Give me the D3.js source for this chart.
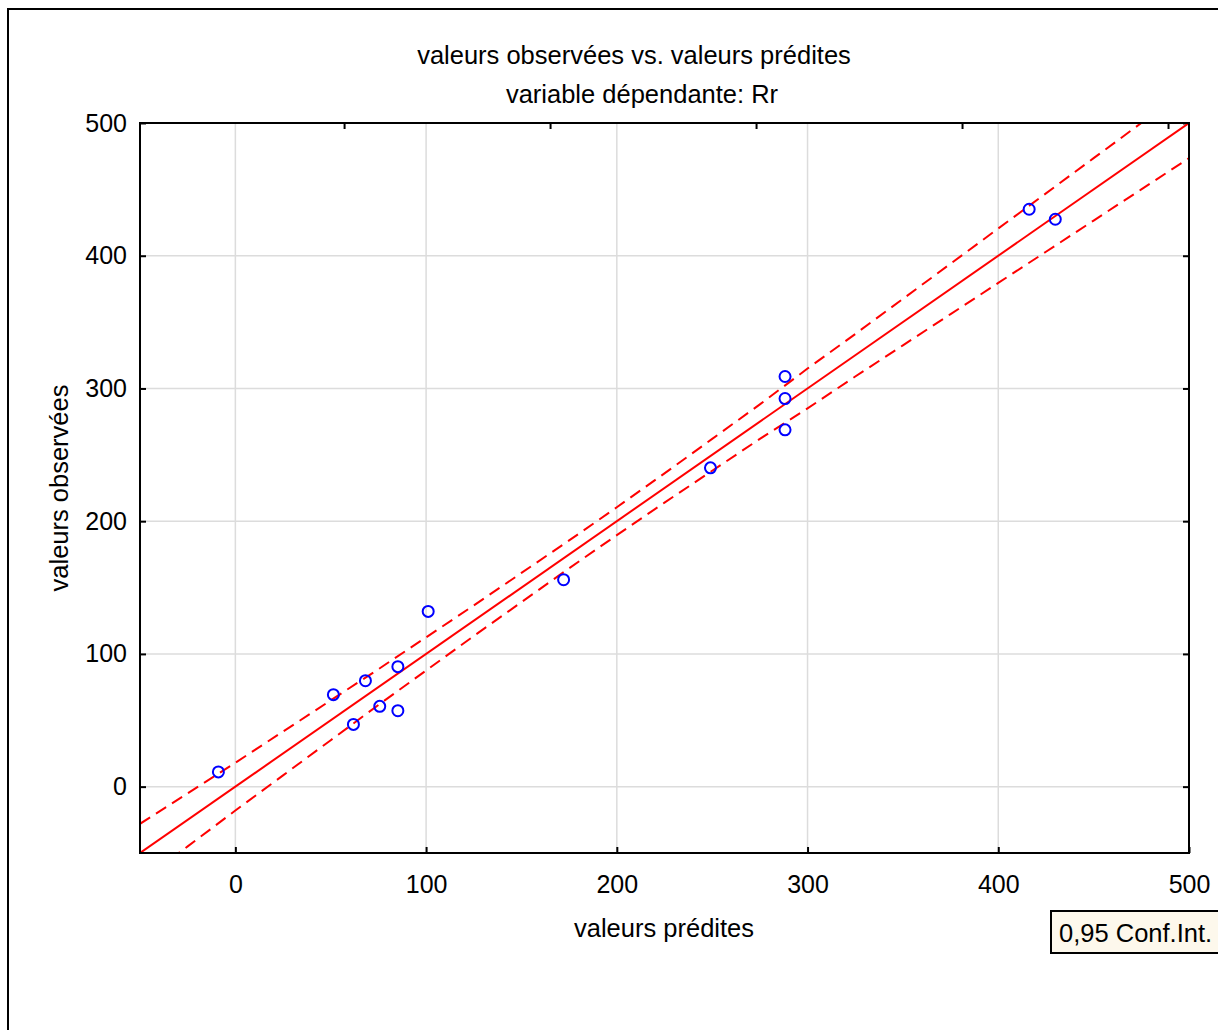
<!DOCTYPE html>
<html>
<head>
<meta charset="utf-8">
<style>
  body { margin: 0; background: white; }
  text { font-family: "Liberation Sans", Arial, sans-serif; fill: black; }
</style>
</head>
<body>
<svg width="1218" height="1030"></svg>
<script src="https://cdn.jsdelivr.net/npm/d3@7"></script>
<script>

// observed vs predicted
var predicted = [-8.9, 51.4, 61.9, 68.2, 75.7, 85.2, 85.2, 101.1, 172.1, 249.1, 288.2, 288.2, 288.2, 416.2, 429.9];
var observed  = [11.1, 69.3, 46.9, 79.8, 60.5, 90.4, 57.2, 132.0, 155.9, 240.2, 309.0, 292.4, 268.8, 435.0, 427.5];

// fitted line and 0.95 confidence band
var fitX   = [-50, 500];
var fitY   = [-50, 500];
var bandX  = [-50, -25, 0, 25, 50, 75, 100, 125, 150, 175, 200, 225, 250, 275, 300, 325, 350, 375, 400, 425, 450, 475, 500];
var bandHi = [-28, -5, 18, 41.5, 65, 88.5, 112.5, 136.5, 161, 185.5, 210.5, 236, 262, 288, 315, 341, 367.5, 394, 420.5, 447, 473.5, 500, 526.5];
var bandLo = [-72, -45, -18, 8.5, 35, 61.5, 87.5, 113.5, 139, 164.5, 189.5, 214, 238, 262, 285, 309, 332.5, 356, 379.5, 403, 426.5, 450, 473.5];

var xTicks = [0, 100, 200, 300, 400, 500];
var yTicks = [0, 100, 200, 300, 400, 500];
var topTicks = [57, 165, 273, 381, 489];

var svg = d3.select("svg");

var pLeft = 140, pRight = 1189, pTop = 123, pBottom = 853;

var x = d3.scaleLinear().domain([-50, 500]).range([pLeft, pRight]);
var y = d3.scaleLinear().domain([-50, 500]).range([pBottom, pTop]);

// outer frame
svg.append("rect")
    .attr("x", 8).attr("y", 9)
    .attr("width", 1240).attr("height", 1040)
    .attr("fill", "none").attr("stroke", "black").attr("stroke-width", 2);

// grid
svg.append("g").selectAll("line")
    .data(xTicks.slice(0, -1))
    .enter().append("line")
    .attr("x1", d => x(d)).attr("x2", d => x(d))
    .attr("y1", pTop).attr("y2", pBottom)
    .attr("stroke", "#dcdcdc").attr("stroke-width", 1.5);

svg.append("g").selectAll("line")
    .data(yTicks.slice(0, -1))
    .enter().append("line")
    .attr("y1", d => y(d)).attr("y2", d => y(d))
    .attr("x1", pLeft).attr("x2", pRight)
    .attr("stroke", "#dcdcdc").attr("stroke-width", 1.5);

// axes (ticks drawn inward)
var fmt = d3.format("d");
var gx = svg.append("g").attr("transform", "translate(0," + pBottom + ")")
    .call(d3.axisBottom(x).tickValues(xTicks).tickSize(-6).tickPadding(22).tickFormat(fmt));
var gy = svg.append("g").attr("transform", "translate(" + pLeft + ",0)")
    .call(d3.axisLeft(y).tickValues(yTicks).tickSize(-6).tickPadding(13).tickFormat(fmt));
var gt = svg.append("g").attr("transform", "translate(0," + pTop + ")")
    .call(d3.axisTop(x).tickValues(topTicks).tickSize(-6).tickFormat(""));
var gr = svg.append("g").attr("transform", "translate(" + pRight + ",0)")
    .call(d3.axisRight(y).tickValues(yTicks).tickSize(-6).tickFormat(""));

[gx, gy, gt, gr].forEach(function(g) {
  g.select(".domain").remove();
  g.selectAll("line").attr("stroke", "black").attr("stroke-width", 2);
  g.selectAll("text").style("font-size", "25px").attr("fill", "black");
});

// clip for lines
svg.append("clipPath").attr("id", "plot")
  .append("rect").attr("x", pLeft).attr("y", pTop)
  .attr("width", pRight - pLeft).attr("height", pBottom - pTop);

var plot = svg.append("g").attr("clip-path", "url(#plot)");

var line = d3.line()
    .x(d => x(d[0]))
    .y(d => y(d[1]));

plot.append("path")
    .attr("d", line(d3.zip(fitX, fitY)))
    .attr("fill", "none").attr("stroke", "#ff0000").attr("stroke-width", 2);

[bandHi, bandLo].forEach(function(b) {
  plot.append("path")
      .attr("d", line(d3.zip(bandX, b)))
      .attr("fill", "none").attr("stroke", "#ff0000").attr("stroke-width", 2)
      .attr("stroke-dasharray", "12,7");
});

// points
svg.append("g").selectAll("circle")
    .data(d3.zip(predicted, observed))
    .enter().append("circle")
    .attr("cx", d => x(d[0]))
    .attr("cy", d => y(d[1]))
    .attr("r", 5.5)
    .attr("fill", "none").attr("stroke", "#0000ff").attr("stroke-width", 2);

// plot frame
svg.append("rect")
    .attr("x", pLeft).attr("y", pTop)
    .attr("width", pRight - pLeft).attr("height", pBottom - pTop)
    .attr("fill", "none").attr("stroke", "black").attr("stroke-width", 2);

// titles
svg.append("text").attr("x", 634).attr("y", 64)
    .attr("text-anchor", "middle").style("font-size", "25.5px")
    .text("valeurs observées vs. valeurs prédites");
svg.append("text").attr("x", 642).attr("y", 103)
    .attr("text-anchor", "middle").style("font-size", "25.5px")
    .text("variable dépendante: Rr");
svg.append("text").attr("x", 664).attr("y", 937)
    .attr("text-anchor", "middle").style("font-size", "25.5px")
    .text("valeurs prédites");
svg.append("text")
    .attr("transform", "translate(68,488) rotate(-90)")
    .attr("text-anchor", "middle").style("font-size", "25.5px")
    .text("valeurs observées");

// legend
svg.append("rect")
    .attr("x", 1051).attr("y", 911)
    .attr("width", 200).attr("height", 42)
    .attr("fill", "#fdf8ec").attr("stroke", "black").attr("stroke-width", 2);
svg.append("text").attr("x", 1059).attr("y", 942)
    .style("font-size", "25.5px")
    .text("0,95 Conf.Int.");

</script>
</body>
</html>
